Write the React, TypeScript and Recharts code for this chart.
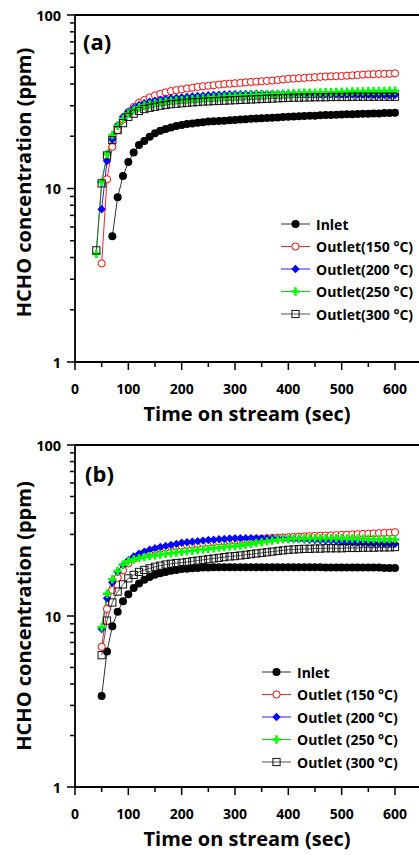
import { LineChart, Line, XAxis, YAxis, ReferenceLine, Label } from 'recharts';

// time axis (sec)
const TIME_A = [
  40, 50, 60, 70, 80, 90, 100, 110, 120, 130, 140, 150, 160, 170, 180, 190, 200, 210, 220, 230,
  240, 250, 260, 270, 280, 290, 300, 310, 320, 330, 340, 350, 360, 370, 380, 390, 400, 410, 420, 430,
  440, 450, 460, 470, 480, 490, 500, 510, 520, 530, 540, 550, 560, 570, 580, 590, 600,
];
const TIME_B = TIME_A.slice(1);

// panel (a) values, ppm
const INLET_A = [
  null, null, null,
  5.3, 8.9, 11.8, 14.2, 16.1, 17.8, 18.8, 19.9, 20.8, 21.5,
  22.0, 22.5, 22.9, 23.2, 23.5, 23.7, 23.9, 24.1, 24.3, 24.4,
  24.5, 24.6, 24.7, 24.8, 25.0, 25.1, 25.2, 25.3, 25.4, 25.5,
  25.6, 25.7, 25.8, 25.9, 26.0, 26.1, 26.2, 26.3, 26.3, 26.4,
  26.5, 26.5, 26.6, 26.7, 26.8, 26.8, 26.9, 27.0, 27.0, 27.1,
  27.1, 27.2, 27.2, 27.3,
];
const OUT150_A = [
  null,
  3.7, 11.3, 17.4, 21.7, 25.0, 27.5, 29.5, 31.2, 32.4, 33.5,
  34.4, 35.1, 35.8, 36.4, 36.9, 37.3, 37.7, 38.1, 38.5, 38.8,
  39.1, 39.4, 39.7, 40.0, 40.2, 40.4, 40.6, 40.9, 41.1, 41.3,
  41.5, 41.7, 41.9, 42.2, 42.5, 42.8, 43.0, 43.2, 43.4, 43.6,
  43.8, 44.0, 44.2, 44.3, 44.4, 44.5, 44.7, 44.9, 45.1, 45.3,
  45.5, 45.6, 45.7, 45.8, 45.9, 46.1,
];
const OUT200_A = [
  null,
  7.6, 14.4, 19.2, 23.2, 25.9, 27.7, 29.1, 30.3, 31.0, 31.6,
  32.1, 32.5, 32.8, 33.1, 33.3, 33.5, 33.7, 33.9, 34.1, 34.3,
  34.5, 34.6, 34.7, 34.8, 34.9, 35.0, 35.0, 35.1, 35.1, 35.2,
  35.2, 35.2, 35.2, 35.2, 35.2, 35.2, 35.2, 35.1, 35.1, 35.1,
  35.1, 35.0, 35.0, 35.0, 35.0, 34.9, 34.9, 34.9, 34.8, 34.8,
  34.8, 34.7, 34.7, 34.7, 34.6, 34.6,
];
const OUT250_A = [
  4.2, 10.9, 15.8, 20.3, 23.0, 25.2, 27.1, 28.4, 29.4, 30.1,
  30.6, 31.0, 31.4, 31.7, 32.0, 32.2, 32.3, 32.5, 32.7, 32.9,
  33.1, 33.3, 33.5, 33.7, 33.8, 34.0, 34.1, 34.3, 34.4, 34.6,
  34.7, 34.8, 34.9, 35.0, 35.1, 35.2, 35.3, 35.4, 35.5, 35.6,
  35.6, 35.7, 35.8, 35.9, 35.9, 36.0, 36.1, 36.1, 36.2, 36.3,
  36.3, 36.4, 36.4, 36.5, 36.5, 36.6, 36.6,
];
const OUT300_A = [
  4.4, 10.7, 15.5, 19.0, 21.7, 23.8, 25.9, 27.0, 28.0, 28.7,
  29.2, 29.6, 30.0, 30.3, 30.6, 30.8, 31.0, 31.2, 31.4, 31.5,
  31.7, 31.8, 31.9, 32.0, 32.1, 32.2, 32.3, 32.4, 32.5, 32.6,
  32.7, 32.8, 32.9, 33.0, 33.1, 33.2, 33.3, 33.4, 33.4, 33.5,
  33.5, 33.6, 33.6, 33.6, 33.7, 33.7, 33.7, 33.7, 33.8, 33.8,
  33.8, 33.8, 33.8, 33.8, 33.8, 33.8, 33.8,
];

// panel (b) values, ppm
const INLET_B = [
  3.4, 6.2, 8.7, 10.6, 12.2, 13.4, 14.6, 15.5, 16.3, 16.9,
  17.4, 17.8, 18.1, 18.4, 18.6, 18.8, 18.9, 19.0, 19.1, 19.2,
  19.2, 19.3, 19.3, 19.3, 19.3, 19.3, 19.3, 19.3, 19.3, 19.3,
  19.3, 19.3, 19.3, 19.3, 19.3, 19.3, 19.3, 19.3, 19.3, 19.3,
  19.3, 19.3, 19.2, 19.2, 19.2, 19.2, 19.2, 19.2, 19.2, 19.2,
  19.2, 19.2, 19.2, 19.1, 19.1, 19.1,
];
const OUT150_B = [
  6.6, 11.0, 14.2, 16.7, 18.5, 20.3, 21.6, 22.6, 23.3, 23.9,
  24.4, 24.8, 25.1, 25.4, 25.6, 25.8, 26.0, 26.2, 26.4, 26.6,
  26.8, 27.0, 27.2, 27.3, 27.5, 27.6, 27.8, 27.9, 28.1, 28.2,
  28.3, 28.5, 28.6, 28.7, 28.8, 28.9, 29.0, 29.1, 29.2, 29.3,
  29.4, 29.5, 29.5, 29.6, 29.7, 29.8, 29.9, 30.0, 30.1, 30.2,
  30.3, 30.4, 30.5, 30.6, 30.7, 30.9,
];
const OUT200_B = [
  8.4, 12.7, 15.7, 18.1, 19.8, 21.2, 22.3, 23.1, 23.8, 24.4,
  24.9, 25.3, 25.7, 26.0, 26.4, 26.8, 27.0, 27.2, 27.4, 27.6,
  27.8, 27.9, 28.1, 28.2, 28.4, 28.5, 28.5, 28.5, 28.5, 28.5,
  28.5, 28.4, 28.4, 28.3, 28.3, 28.2, 28.1, 28.1, 28.0, 27.9,
  27.8, 27.7, 27.6, 27.6, 27.4, 27.2, 27.1, 27.0, 26.9, 26.8,
  26.7, 26.6, 26.6, 26.5, 26.5, 26.4,
];
const OUT250_B = [
  8.6, 13.5, 16.4, 18.3, 20.0, 20.9, 21.4, 21.8, 22.1, 22.4,
  22.6, 22.9, 23.1, 23.3, 23.5, 23.7, 23.9, 24.1, 24.3, 24.5,
  24.7, 24.9, 25.1, 25.3, 25.5, 25.6, 25.8, 26.1, 26.4, 26.7,
  27.0, 27.3, 27.6, 27.9, 28.1, 28.2, 28.3, 28.4, 28.4, 28.5,
  28.5, 28.5, 28.5, 28.5, 28.5, 28.5, 28.4, 28.4, 28.3, 28.3,
  28.2, 28.2, 28.1, 28.1, 28.0, 28.0,
];
const OUT300_B = [
  5.9, 9.4, 12.0, 13.9, 15.3, 16.6, 17.4, 18.1, 18.6, 19.0,
  19.4, 19.7, 20.0, 20.2, 20.4, 20.5, 20.7, 20.9, 21.1, 21.3,
  21.5, 21.7, 21.9, 22.1, 22.3, 22.4, 22.6, 22.8, 23.0, 23.2,
  23.4, 23.6, 23.8, 24.0, 24.2, 24.4, 24.5, 24.6, 24.7, 24.7,
  24.8, 24.8, 24.9, 24.9, 24.9, 24.9, 25.0, 25.0, 25.0, 25.1,
  25.1, 25.1, 25.2, 25.2, 25.2, 25.3,
];

const X_TICKS = [0, 50, 100, 150, 200, 250, 300, 350, 400, 450, 500, 550, 600];
const Y_TICKS = [1, 2, 3, 4, 5, 6, 7, 8, 9, 10, 20, 30, 40, 50, 60, 70, 80, 90, 100];

const FONT = '"Open Sans", "DejaVu Sans", sans-serif';

type Kind = 'inlet' | 'o150' | 'o200' | 'o250' | 'o300';

const SERIES: { key: Kind; line: string }[] = [
  { key: 'inlet', line: '#333333' },
  { key: 'o150', line: '#ff2020' },
  { key: 'o200', line: '#2020ff' },
  { key: 'o250', line: '#00e000' },
  { key: 'o300', line: '#555555' },
];

function Marker({ kind, cx, cy }: { kind: Kind; cx: number; cy: number }) {
  switch (kind) {
    case 'inlet':
      return <circle cx={cx} cy={cy} r={4} fill="#000" />;
    case 'o150':
      return <circle cx={cx} cy={cy} r={3.6} fill="#fff" stroke="#ff0000" strokeWidth={1} />;
    case 'o200':
      return (
        <polygon
          points={`${cx},${cy - 4.2} ${cx + 4.2},${cy} ${cx},${cy + 4.2} ${cx - 4.2},${cy}`}
          fill="#0000ff"
        />
      );
    case 'o250':
      return (
        <path
          d={`M${cx - 4.2},${cy}H${cx + 4.2}M${cx},${cy - 4.2}V${cy + 4.2}`}
          stroke="#00ff00"
          strokeWidth={2.6}
        />
      );
    default:
      return (
        <rect x={cx - 3.6} y={cy - 3.6} width={7.2} height={7.2} fill="none" stroke="#111" strokeWidth={1} />
      );
  }
}

const dotFor = (kind: Kind) => (p: any) => {
  const k = p.key ?? `${kind}-${p.index}`;
  if (p.cx == null || p.cy == null || p.value == null) return <g key={k} />;
  return (
    <g key={k}>
      <Marker kind={kind} cx={p.cx} cy={p.cy} />
    </g>
  );
};

function YTick({ x, y, payload }: any) {
  const v = payload.value;
  const major = v === 1 || v === 10 || v === 100;
  const len = major ? 8 : 5;
  return (
    <g>
      <line x1={x} x2={x - len} y1={y} y2={y} stroke="#000" strokeWidth={1.5} />
      {major && (
        <text
          x={x - len - 6}
          y={y}
          textAnchor="end"
          dominantBaseline="central"
          fontFamily={FONT}
          fontWeight={700}
          fontSize={14.5}
          fill="#000"
        >
          {v}
        </text>
      )}
    </g>
  );
}

function XTick({ x, y, payload }: any) {
  const v = payload.value;
  const major = v % 100 === 0;
  const len = major ? 8 : 5;
  return (
    <g>
      <line x1={x} x2={x} y1={y} y2={y + len} stroke="#000" strokeWidth={1.5} />
      {major && (
        <text
          x={x}
          y={y + 26}
          textAnchor="middle"
          dominantBaseline="central"
          fontFamily={FONT}
          fontWeight={700}
          fontSize={14}
          fill="#000"
        >
          {v}
        </text>
      )}
    </g>
  );
}

function Panel({
  time,
  cols,
  height,
  marginBottom,
  yShift,
}: {
  time: number[];
  cols: Record<Kind, (number | null)[]>;
  height: number;
  marginBottom: number;
  yShift: number;
}) {
  const data = time.map((t, i) => ({
    t,
    inlet: cols.inlet[i],
    o150: cols.o150[i],
    o200: cols.o200[i],
    o250: cols.o250[i],
    o300: cols.o300[i],
  }));

  return (
    <LineChart width={419} height={height} data={data} margin={{ top: 15, right: 0, left: 0, bottom: marginBottom }}>
      <XAxis
        dataKey="t"
        type="number"
        domain={[0, 645]}
        ticks={X_TICKS}
        interval={0}
        allowDataOverflow
        tick={<XTick />}
        tickLine={false}
        tickSize={0}
        tickMargin={0}
        height={68}
        axisLine={{ stroke: '#000', strokeWidth: 1.8 }}
      >
        <Label
          content={({ viewBox }: any) => (
            <text
              x={viewBox.x + viewBox.width / 2}
              y={viewBox.y + 51}
              textAnchor="middle"
              dominantBaseline="central"
              fontFamily={FONT}
              fontWeight={700}
              fontSize={20}
              fill="#000"
            >
              Time on stream (sec)
            </text>
          )}
        />
      </XAxis>
      <YAxis
        type="number"
        scale="log"
        domain={[1, 100]}
        ticks={Y_TICKS}
        interval={0}
        allowDataOverflow
        width={75}
        tick={<YTick />}
        tickLine={false}
        tickSize={0}
        tickMargin={0}
        axisLine={{ stroke: '#000', strokeWidth: 1.8 }}
      >
        <Label
          content={({ viewBox }: any) => {
            const cy = viewBox.y + viewBox.height / 2 + yShift;
            return (
              <text
                x={23}
                y={cy}
                transform={`rotate(-90, 23, ${cy})`}
                textAnchor="middle"
                dominantBaseline="central"
                fontFamily={FONT}
                fontWeight={700}
                fontSize={20}
                fill="#000"
              >
                HCHO concentration (ppm)
              </text>
            );
          }}
        />
      </YAxis>
      <ReferenceLine y={100} stroke="#000" strokeWidth={1.8} />
      {SERIES.map((s) => (
        <Line
          key={s.key}
          type="linear"
          dataKey={s.key}
          stroke={s.line}
          strokeWidth={1}
          dot={dotFor(s.key)}
          activeDot={false}
          connectNulls={false}
          isAnimationActive={false}
        />
      ))}
    </LineChart>
  );
}

function LegendBox({
  left,
  top,
  labels,
}: {
  left: number;
  top: number;
  labels: string[];
}) {
  return (
    <svg style={{ position: 'absolute', left, top }} width={150} height={110}>
      {SERIES.map((s, i) => {
        const y = 8 + i * 22.5;
        return (
          <g key={s.key}>
            <line x1={0} x2={29} y1={y} y2={y} stroke={s.line} strokeWidth={1} />
            <Marker kind={s.key} cx={14.5} cy={y} />
            <text
              x={35}
              y={y}
              dominantBaseline="central"
              fontFamily={FONT}
              fontWeight={700}
              fontSize={14}
              fill="#000"
            >
              {labels[i]}
            </text>
          </g>
        );
      })}
    </svg>
  );
}

const LEGEND_A = ['Inlet', 'Outlet(150 °C)', 'Outlet(200 °C)', 'Outlet(250 °C)', 'Outlet(300 °C)'];
const LEGEND_B = ['Inlet', 'Outlet (150 °C)', 'Outlet (200 °C)', 'Outlet (250 °C)', 'Outlet (300 °C)'];

export default function App() {
  const panelLabel = (text: string, left: number, top: number) => (
    <div
      style={{
        position: 'absolute',
        left,
        top,
        fontFamily: FONT,
        fontWeight: 700,
        fontSize: 22,
        lineHeight: '22px',
        color: '#000',
      }}
    >
      {text}
    </div>
  );

  return (
    <div style={{ position: 'absolute', left: 0, top: 0, width: 419, height: 855, background: '#fff', overflow: 'hidden' }}>
      <div style={{ position: 'absolute', left: 0, top: 0 }}>
        <Panel
          time={TIME_A}
          cols={{ inlet: INLET_A, o150: OUT150_A, o200: OUT200_A, o250: OUT250_A, o300: OUT300_A }}
          height={430}
          marginBottom={0}
          yShift={-6}
        />
      </div>
      <div style={{ position: 'absolute', left: 0, top: 430 }}>
        <Panel
          time={TIME_B}
          cols={{ inlet: INLET_B, o150: OUT150_B, o200: OUT200_B, o250: OUT250_B, o300: OUT300_B }}
          height={425}
          marginBottom={0}
          yShift={0}
        />
      </div>
      {panelLabel('(a)', 83, 30)}
      {panelLabel('(b)', 85, 462)}
      <LegendBox left={281} top={216} labels={LEGEND_A} />
      <LegendBox left={262} top={664} labels={LEGEND_B} />
    </div>
  );
}
